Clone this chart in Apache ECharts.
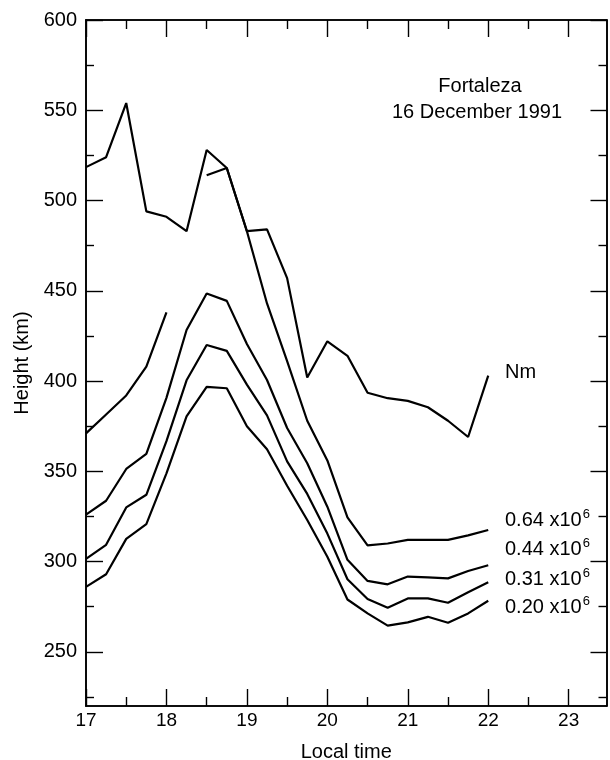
<!DOCTYPE html>
<html><head><meta charset="utf-8">
<script src="https://cdn.jsdelivr.net/npm/echarts@6/dist/echarts.min.js"></script>
<style>html,body{margin:0;padding:0;background:#fff}#c{width:610px;height:760px}</style>
</head><body><div id="c"></div>
<script>
// Local time (hours) of each sounding
const times = [17,17.25,17.5,17.75,18,18.25,18.5,18.75,19,19.25,19.5,19.75,20,20.25,20.5,20.75,21,21.25,21.5,21.75,22];
// Heights (km)
const hNm  = [518.5,524,554,494,491,483,528,518,483,484,457,402,422,414,393.5,390.5,389,385.5,378,369,403];
const h064 = [371,381.5,392,408,438,null,514,518,483,443,411,378,356,324.5,309,310,312,312,312,314.5,317.5];
const h044 = [326,333.7,351.3,359.6,390.7,428.3,448.5,444.4,420.5,400.6,374,354.5,330.4,301,289.3,287.4,291.7,291.3,290.7,294.8,298];
const h031 = [301.5,309.3,330,337,366.7,400.4,420,416.7,398,381,355.5,337.5,315.5,290.2,279.3,274.4,279.6,279.6,277.2,283,288.5];
const h020 = [286,293,312.6,320.7,348.9,380.4,396.8,396,375,362.2,342,323,302.7,279,271.3,264.5,266.3,269.4,266.1,271.3,278.3];
// Tick values
const xMajorTicks = [17,18,19,20,21,22,23];
const xMinorTicks = [17.5,18.5,19.5,20.5,21.5,22.5];
const yMajorTicks = [250,300,350,400,450,500,550,600];
const yMinorTicks = [225,275,325,375,425,475,525,575];
// Texts
const titleLines = ['Fortaleza','16 December 1991'];
const curveNames = ['Nm','0.64','0.44','0.31','0.20'];

const FONT = '"Liberation Sans", Arial, Helvetica, sans-serif';
const X_MIN = 17, X_MAX = 23.47, Y_MIN = 220, Y_MAX = 600;

function xAxisDef(pos, ticks, len, withLabels) {
  return {
    type: 'value', position: pos, min: X_MIN, max: X_MAX,
    axisLine: { show: true, onZero: false, lineStyle: { color: '#000', width: 1.6 } },
    axisTick: { show: true, inside: true, length: len, customValues: ticks, lineStyle: { color: '#000', width: 1.4 } },
    axisLabel: withLabels ? { show: true, customValues: xMajorTicks, color: '#000', fontSize: 19, fontFamily: FONT, margin: 5 } : { show: false },
    splitLine: { show: false },
    name: withLabels ? 'Local time' : '',
    nameLocation: 'middle', nameGap: 36,
    nameTextStyle: { color: '#000', fontSize: 20, fontFamily: FONT }
  };
}
function yAxisDef(pos, ticks, len, withLabels) {
  return {
    type: 'value', position: pos, min: Y_MIN, max: Y_MAX,
    axisLine: { show: true, onZero: false, lineStyle: { color: '#000', width: 1.6 } },
    axisTick: { show: true, inside: true, length: len, customValues: ticks, lineStyle: { color: '#000', width: 1.4 } },
    axisLabel: withLabels ? { show: true, customValues: yMajorTicks, color: '#000', fontSize: 20, fontFamily: FONT, margin: 9 } : { show: false },
    splitLine: { show: false },
    name: withLabels ? 'Height (km)' : '',
    nameLocation: 'middle', nameGap: 50,
    nameTextStyle: { color: '#000', fontSize: 20, fontFamily: FONT }
  };
}

function pairs(vals) { return times.map((t, i) => [t, vals[i] == null ? '-' : vals[i]]); }
function lineSeries(name, vals) {
  return {
    type: 'line', name: name, data: pairs(vals), xAxisIndex: 0, yAxisIndex: 0,
    showSymbol: false, symbol: 'none', connectNulls: false, smooth: false,
    lineStyle: { color: '#000', width: 2.2 }, itemStyle: { color: '#000' },
    silent: true, animation: false
  };
}

const supRich = {
  m: { fontSize: 20, fontFamily: FONT, color: '#000', lineHeight: 24 },
  s: { fontSize: 13, fontFamily: FONT, color: '#000', lineHeight: 24, verticalAlign: 'top', padding: [0, 0, 0, 1] }
};
function curveLabel(txt, x, y, sup) {
  return {
    type: 'text', x: x, y: y, silent: true,
    style: {
      text: sup ? '{m|' + txt + ' x10}{s|6}' : '{m|' + txt + '}',
      rich: supRich, textVerticalAlign: 'middle', textAlign: 'left'
    }
  };
}

const chart = echarts.init(document.getElementById('c'), null, { renderer: 'canvas' });
chart.setOption({
  animation: false,
  backgroundColor: '#fff',
  grid: { left: 86, right: 3.5, top: 20, bottom: 54, containLabel: false, outerBoundsMode: 'none' },
  xAxis: [
    xAxisDef('bottom', xMajorTicks, 17, true),
    xAxisDef('bottom', xMinorTicks, 9, false),
    xAxisDef('top', xMajorTicks, 17, false),
    xAxisDef('top', xMinorTicks, 9, false)
  ],
  yAxis: [
    yAxisDef('left', yMajorTicks, 17, true),
    yAxisDef('left', yMinorTicks, 8, false),
    yAxisDef('right', yMajorTicks, 16, false),
    yAxisDef('right', yMinorTicks, 8, false)
  ],
  series: [
    lineSeries(curveNames[0], hNm),
    lineSeries(curveNames[1], h064),
    lineSeries(curveNames[2], h044),
    lineSeries(curveNames[3], h031),
    lineSeries(curveNames[4], h020)
  ],
  graphic: [
    { type: 'text', x: 480, y: 86, silent: true, style: { text: titleLines[0], font: '20px ' + FONT, fill: '#000', textAlign: 'center', textVerticalAlign: 'middle' } },
    { type: 'text', x: 477, y: 112, silent: true, style: { text: titleLines[1], font: '20px ' + FONT, fill: '#000', textAlign: 'center', textVerticalAlign: 'middle' } },
    curveLabel(curveNames[0], 505, 372, false),
    curveLabel(curveNames[1], 505, 520, true),
    curveLabel(curveNames[2], 505, 549, true),
    curveLabel(curveNames[3], 505, 579, true),
    curveLabel(curveNames[4], 505, 607, true)
  ]
});
</script></body></html>
